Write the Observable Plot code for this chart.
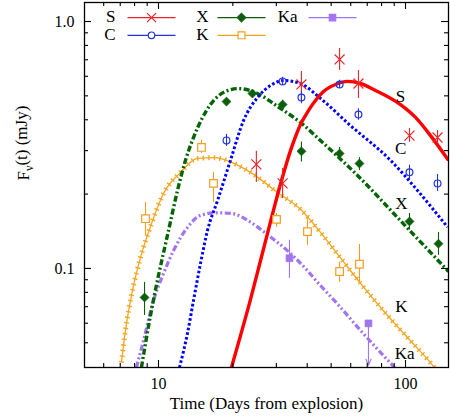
<!DOCTYPE html>
<html><head><meta charset="utf-8">
<script src="https://cdn.jsdelivr.net/npm/d3@7"></script>
<script src="https://cdn.jsdelivr.net/npm/@observablehq/plot@0.6"></script>
<style>body{margin:0;background:#fff}</style>
</head><body><div id="chart"></div>
<script>
// ---------- data (time in days, flux in mJy) ----------
const xMajorTicks = [10, 100];
const xMinorTicks = [6, 7, 8, 9, 20, 30, 40, 50, 60, 70, 80, 90];
const yMajorTicks = [0.1, 1.0];
const yMinorTicks = [0.05, 0.06, 0.07, 0.08, 0.09, 0.2, 0.3, 0.4, 0.5, 0.6, 0.7, 0.8, 0.9];

// model curves [t, flux]
const sCurve = [[19.74,0.0397],[23.58,0.0749],[27.12,0.129],[31.48,0.227],[34.23,0.300],[35.87,0.342],[37.58,0.383],[39.36,0.416],[41.25,0.449],[43.2,0.479],[46.56,0.521],[52.08,0.556],[58.24,0.572],[65.74,0.561],[75.6,0.526],[95.46,0.461],[109.8,0.409],[126.3,0.345],[149.3,0.274]];
const cCurve = [[12.16,0.0397],[13.10,0.0546],[13.86,0.0742],[14.79,0.1047],[15.79,0.1425],[17.33,0.188],[19.56,0.274],[22.09,0.397],[25.16,0.492],[28.41,0.551],[32.07,0.577],[37.58,0.561],[45.27,0.488],[59.89,0.379],[86.97,0.274],[111.8,0.207],[147.9,0.147]];
const xCurve = [[8.53,0.0397],[9.28,0.0645],[10.0,0.0937],[10.87,0.136],[11.94,0.207],[12.86,0.274],[13.86,0.339],[16.24,0.461],[18.68,0.521],[21.08,0.535],[25.16,0.511],[30.33,0.453],[37.58,0.390],[46.56,0.321],[63.94,0.238],[95.46,0.156],[149.3,0.0972]];
const kCurve = [[7.08,0.0416],[7.35,0.0561],[7.85,0.0815],[8.46,0.1108],[9.37,0.152],[10.48,0.2012],[12.28,0.245],[14.39,0.279],[16.85,0.281],[19.74,0.269],[23.58,0.245],[30.33,0.203],[37.93,0.172],[45.27,0.140],[55.07,0.109],[65.74,0.0870],[84.56,0.0645],[101.9,0.0525],[123.9,0.0424],[131.0,0.0397]];
const kaCurve = [[8.14,0.0397],[8.70,0.0511],[9.546,0.0742],[10.48,0.0954],[11.50,0.118],[13.10,0.1466],[14.79,0.164],[17.01,0.168],[19.74,0.167],[23.58,0.154],[26.86,0.140],[34.23,0.115],[37.93,0.104],[45.27,0.0853],[54.6,0.0695],[65.74,0.0561],[90.3,0.0397]];

// observations {t, f, lo, hi}
const sPts = [
  {t:24.9, f:0.264, lo:0.223, hi:0.298},
  {t:31.8, f:0.221, lo:0.192, hi:0.254},
  {t:37.9, f:0.556, lo:0.479, hi:0.627},
  {t:54.1, f:0.702, lo:0.633, hi:0.777},
  {t:64.5, f:0.561, lo:0.488, hi:0.633},
  {t:103.8, f:0.345, lo:0.324, hi:0.369},
  {t:134.8, f:0.339, lo:0.321, hi:0.362}
];
const cPts = [
  {t:18.85, f:0.330, lo:0.312, hi:0.349},
  {t:31.8, f:0.572, lo:0.550, hi:0.595},
  {t:37.9, f:0.492, lo:0.465, hi:0.520},
  {t:54.1, f:0.556, lo:0.535, hi:0.578},
  {t:64.5, f:0.420, lo:0.398, hi:0.443},
  {t:103.8, f:0.245, lo:0.228, hi:0.262},
  {t:134.8, f:0.221, lo:0.205, hi:0.240}
];
const xPts = [
  {t:8.78, f:0.0763, lo:0.0645, hi:0.0878},
  {t:18.85, f:0.474, lo:0.460, hi:0.490},
  {t:24.0, f:0.511, lo:0.497, hi:0.526},
  {t:31.8, f:0.461, lo:0.440, hi:0.480},
  {t:37.9, f:0.298, lo:0.270, hi:0.325},
  {t:54.1, f:0.292, lo:0.274, hi:0.309},
  {t:65.1, f:0.266, lo:0.249, hi:0.281},
  {t:103.8, f:0.155, lo:0.143, hi:0.167},
  {t:136.0, f:0.126, lo:0.113, hi:0.140}
];
const kPts = [
  {t:8.86, f:0.159, lo:0.136, hi:0.185},
  {t:14.93, f:0.309, lo:0.292, hi:0.330},
  {t:16.7, f:0.221, lo:0.185, hi:0.245},
  {t:30.05, f:0.158, lo:0.147, hi:0.167},
  {t:40.1, f:0.141, lo:0.124, hi:0.159},
  {t:54.1, f:0.0972, lo:0.0878, hi:0.106},
  {t:65.1, f:0.104, lo:0.0878, hi:0.125}
];
const kaPts = [
  {t:33.9, f:0.110, lo:0.0911, hi:0.130}
];
const kaLimits = [
  {t:70.8, f:0.0599, arrowTo:0.0405}
];

const curveLabels = [
  {name:"S", t:95.5, f:0.497},
  {name:"C", t:95.5, f:0.306},
  {name:"X", t:96.3, f:0.183},
  {name:"K", t:96.3, f:0.0702},
  {name:"Ka", t:99.1, f:0.0453}
];

const xTitle = "Time (Days from explosion)";
const yTitle = "F\u03BD(t) (mJy)";

// ---------- styles ----------
const col = {
  S: {line:"#ff0000", pt:"#e8262a"},
  C: {line:"#0000ff", pt:"#2233e0"},
  X: {line:"#006400", pt:"#0b5f0b"},
  K: {line:"#f5a623", pt:"#f0a020"},
  Ka:{line:"#a374f0", pt:"#a374f0"}
};

const W = 450, H = 417;
const mL = 84, mR = 2, mT = 2, mB = 50;
const innerW = W - mL - mR, innerH = H - mT - mB;
const majorLen = 7, minorLen = 4;
const serif = "'Liberation Serif', 'Times New Roman', serif";
const txt = {fontFamily: serif, fill: "black"};

const xy = {x: d => d[0], y: d => d[1], curve: "monotone-x", clip: true, strokeLinecap: "butt", strokeLinejoin: "round"};

const lineSym = {draw(ctx) { ctx.moveTo(-24, 0); ctx.lineTo(24, 0); }};
const legend = [
  {name:"S", key:"S", symbol:"times", filled:false, r:4.2, tx:31, lx:67, ly:14.6},
  {name:"C", key:"C", symbol:"circle", filled:false, r:3.3, tx:31, lx:67, ly:32.3},
  {name:"X", key:"X", symbol:"diamond2", filled:true, r:3.8, tx:124, lx:157, ly:14.6},
  {name:"K", key:"K", symbol:"square", filled:false, r:3.9, tx:124, lx:157, ly:32.3},
  {name:"Ka", key:"Ka", symbol:"square", filled:true, r:3.6, tx:213, lx:248, ly:14.6}
];
const legendMarks = legend.flatMap(e => [
  Plot.text([e.name], {...txt, frameAnchor:"top-left", dx:e.tx, dy:e.ly - 0.5, text:d => d, textAnchor:"end", lineAnchor:"middle", fontSize:17}),
  Plot.dot([0], {frameAnchor:"top-left", dx:e.lx, dy:e.ly + 0.5, symbol:lineSym, stroke:col[e.key].pt, fill:"none", strokeWidth:1.2}),
  Plot.dot([0], {frameAnchor:"top-left", dx:e.lx, dy:e.ly + 0.5, symbol:e.symbol, r:e.r,
    stroke:col[e.key].pt, fill:e.filled ? col[e.key].pt : "white", strokeWidth:1.2})
]);

const errBars = (pts, c) => Plot.ruleX(pts, {x:"t", y1:"lo", y2:"hi", stroke:c, strokeWidth:1.1});

const chart = Plot.plot({
  width: W, height: H,
  marginLeft: mL, marginRight: mR, marginTop: mT, marginBottom: mB,
  style: {fontFamily: serif, fontSize: "16px", color: "black", background: "white"},
  x: {type: "log", domain: [5.017, 149.3], axis: null},
  y: {type: "log", domain: [0.0397, 1.194], axis: null},
  marks: [
    // model curves
    Plot.line(kaCurve, {...xy, stroke:col.Ka.line, strokeWidth:3.2, strokeDasharray:"6 2.5 2 2.5 2 2.5"}),
    Plot.line(kCurve, {...xy, stroke:col.K.line, strokeWidth:1.3}),
    Plot.line(kCurve, {...xy, stroke:col.K.line, strokeWidth:5, strokeDasharray:"1.4 4.2"}),
    Plot.line(xCurve, {...xy, stroke:col.X.line, strokeWidth:3.4, strokeDasharray:"6 2.5 2 2.5"}),
    Plot.line(cCurve, {...xy, stroke:col.C.line, strokeWidth:3, strokeDasharray:"2.6 2.2"}),
    Plot.line(sCurve, {...xy, stroke:col.S.line, strokeWidth:3.4}),
    // error bars
    errBars(sPts, col.S.pt), errBars(cPts, col.C.pt), errBars(xPts, col.X.pt),
    errBars(kPts, col.K.pt), errBars(kaPts, col.Ka.pt),
    Plot.arrow(kaLimits, {x:"t", y1:"f", y2:"arrowTo", stroke:col.Ka.pt, strokeWidth:1.1, headLength:9, headAngle:45}),
    // observation markers
    Plot.dot(sPts, {x:"t", y:"f", symbol:"times", r:4.6, stroke:col.S.pt, strokeWidth:1.2}),
    Plot.dot(cPts, {x:"t", y:"f", symbol:"circle", r:3.4, stroke:col.C.pt, fill:"white", fillOpacity:0, strokeWidth:1.2}),
    Plot.dot(xPts, {x:"t", y:"f", symbol:"diamond2", r:4.0, fill:col.X.pt, stroke:col.X.pt, strokeWidth:0.8}),
    Plot.dot(kPts, {x:"t", y:"f", symbol:"square", r:4.3, stroke:col.K.pt, fill:"white", strokeWidth:1.2}),
    Plot.dot(kaPts, {x:"t", y:"f", symbol:"square", r:3.8, fill:col.Ka.pt, stroke:col.Ka.pt, strokeWidth:0.8}),
    Plot.dot(kaLimits, {x:"t", y:"f", symbol:"square", r:3.8, fill:col.Ka.pt, stroke:col.Ka.pt, strokeWidth:0.8}),
    // curve labels
    Plot.text(curveLabels, {...txt, x:"t", y:"f", text:"name", fontSize:17, textAnchor:"middle", lineAnchor:"middle"}),
    // ticks (inward, mirrored)
    Plot.tickX(xMajorTicks, {x:d => d, insetTop: innerH - majorLen, stroke:"black", strokeWidth:1.1}),
    Plot.tickX(xMajorTicks, {x:d => d, insetBottom: innerH - majorLen, stroke:"black", strokeWidth:1.1}),
    Plot.tickX(xMinorTicks, {x:d => d, insetTop: innerH - minorLen, stroke:"black", strokeWidth:1.1}),
    Plot.tickX(xMinorTicks, {x:d => d, insetBottom: innerH - minorLen, stroke:"black", strokeWidth:1.1}),
    Plot.tickY(yMajorTicks, {y:d => d, insetRight: innerW - majorLen, stroke:"black", strokeWidth:1.1}),
    Plot.tickY(yMajorTicks, {y:d => d, insetLeft: innerW - majorLen, stroke:"black", strokeWidth:1.1}),
    Plot.tickY(yMinorTicks, {y:d => d, insetRight: innerW - minorLen, stroke:"black", strokeWidth:1.1}),
    Plot.tickY(yMinorTicks, {y:d => d, insetLeft: innerW - minorLen, stroke:"black", strokeWidth:1.1}),
    // tick labels
    Plot.axisX({...txt, ticks: xMajorTicks, tickSize: 0, tickPadding: 10, tickFormat: d => String(d), label: null, fontSize: 16}),
    Plot.axisY({...txt, ticks: yMajorTicks, tickSize: 0, tickPadding: 10, tickFormat: d3.format(".1f"), label: null, fontSize: 16}),
    // axis titles
    Plot.text([xTitle], {...txt, frameAnchor:"bottom", dy:36, text:d => d, fontSize:17, lineAnchor:"middle"}),
    Plot.text([yTitle], {...txt, frameAnchor:"left", dx:-61, dy:-4.5, rotate:-90, text:d => d, fontSize:17, lineAnchor:"middle"}),
    // legend
    ...legendMarks,
    Plot.frame({stroke:"black", strokeWidth:1.3})
  ]
});
document.getElementById("chart").append(chart);

// subscript nu in the y title
d3.select(chart).selectAll("text").each(function() {
  if (this.textContent === yTitle) {
    const t = d3.select(this);
    t.text(null);
    t.append("tspan").text("F");
    t.append("tspan").attr("dy", "0.3em").attr("font-size", "12px").text("\u03BD");
    t.append("tspan").attr("dy", "-0.3em").text("(t) (mJy)");
  }
});
</script>
</body></html>
